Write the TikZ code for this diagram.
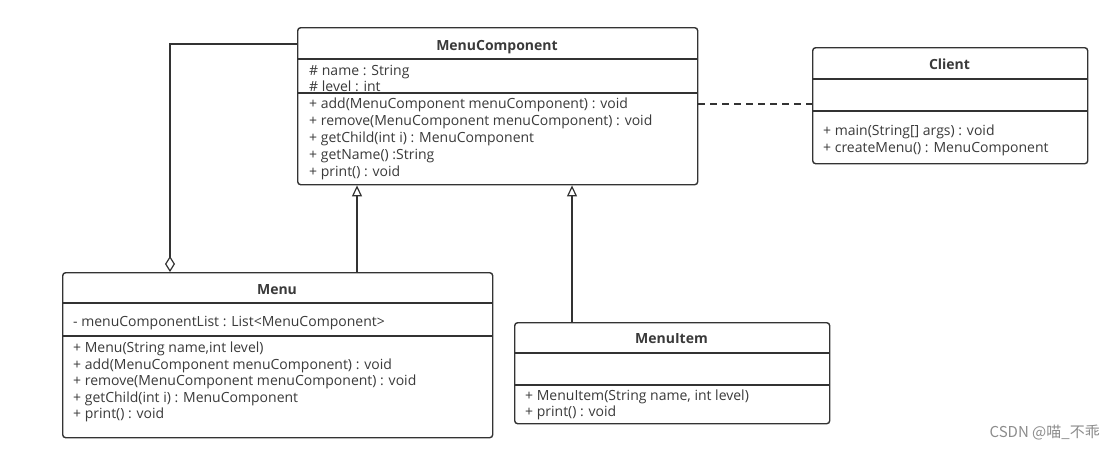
\documentclass[tikz,border=0pt]{standalone}
\usepackage{fontspec}
\setmainfont{Open Sans}
\newfontfamily\cjk{Noto Sans CJK SC}
\usetikzlibrary{arrows.meta}
\definecolor{ln}{HTML}{333333}
\definecolor{tx}{HTML}{3A3A3A}
\tikzset{
  classbox/.style={draw=ln, line width=1.4pt, rounded corners=3pt, anchor=north west, inner sep=0pt, fill=white},
  divider/.style={draw=ln, line width=1.4pt},
  txt/.style={anchor=mid west, inner sep=0pt, text=tx, font=\fontsize{14}{16}\selectfont, yshift=-2.5pt},
  ttl/.style={anchor=mid, inner sep=0pt, text=tx, font=\fontsize{14}{16}\selectfont\bfseries, yshift=-2.5pt},
  conn/.style={draw=ln, line width=1.4pt},
  inherit/.style={conn, -{Triangle[open, length=11pt, width=10pt, line width=1.2pt]}},
  aggr/.style={conn, {Diamond[open, length=16pt, width=10pt, line width=1.2pt]}-},
  dep/.style={conn, dash pattern=on 7pt off 5pt}
}
\begin{document}
\begin{tikzpicture}[x=1pt, y=-1pt]
\useasboundingbox (0,0) rectangle (1115,451);
% MenuComponent
\node[classbox, minimum width=400pt, minimum height=157pt] (mc) at (297,27) {};
\draw[divider] (297,59) -- (697,59);
\draw[divider] (297,93) -- (697,93);
\node[ttl] (mct) at (497,45) {MenuComponent};
\node[txt] (mc1) at (309,70) {\# name : String};
\node[txt] (mc2) at (309,86) {\# level : int};
\node[txt] (mc3) at (309,103) {+ add(MenuComponent menuComponent) : void};
\node[txt] (mc4) at (309,120) {+ remove(MenuComponent menuComponent) : void};
\node[txt] (mc5) at (309,137) {+ getChild(int i) : MenuComponent};
\node[txt] (mc6) at (309,154) {+ getName() :String};
\node[txt] (mc7) at (309,171) {+ print() : void};
% Client
\node[classbox, minimum width=275pt, minimum height=116pt] (cl) at (812,47) {};
\draw[divider] (812,79) -- (1087,79);
\draw[divider] (812,111) -- (1087,111);
\node[ttl] (clt) at (949.5,64) {Client};
\node[txt] (cl1) at (823,130) {+ main(String[] args) : void};
\node[txt] (cl2) at (823,147) {+ createMenu() : MenuComponent};
% Menu
\node[classbox, minimum width=430pt, minimum height=165pt] (menu) at (62,272) {};
\draw[divider] (62,303) -- (492,303);
\draw[divider] (62,336) -- (492,336);
\node[ttl] (menut) at (277,289) {Menu};
\node[txt] (m1) at (73,321) {- menuComponentList : List<MenuComponent>};
\node[txt] (m2) at (73,347) {+ Menu(String name,int level)};
\node[txt] (m3) at (73,364) {+ add(MenuComponent menuComponent) : void};
\node[txt] (m4) at (73,380) {+ remove(MenuComponent menuComponent) : void};
\node[txt] (m5) at (73,397) {+ getChild(int i) : MenuComponent};
\node[txt] (m6) at (73,413) {+ print() : void};
% MenuItem
\node[classbox, minimum width=315pt, minimum height=101pt] (mi) at (514,322) {};
\draw[divider] (514,353) -- (829,353);
\draw[divider] (514,385) -- (829,385);
\node[ttl] (mit) at (671.5,338) {MenuItem};
\node[txt] (mi1) at (525,395) {+ MenuItem(String name, int level)};
\node[txt] (mi2) at (525,411) {+ print() : void};
% connectors
\draw[aggr] ([xshift=108pt]menu.north west) |- ([yshift=-17pt]mc.north west);
\draw[inherit] ([xshift=295pt]menu.north west) -- ([xshift=295pt]menu.north west |- mc.south);
\draw[inherit] ([xshift=58pt]mi.north west) -- ([xshift=58pt]mi.north west |- mc.south);
\draw[dep] ([yshift=-77pt]mc.north east) -- ([yshift=-77pt]mc.north east -| cl.west);
% watermark
\node[anchor=mid east, inner sep=0pt, text=black!45, font=\cjk\fontsize{15}{17}\selectfont] (wm) at (1100,435) {CSDN @喵\_不乖};
\end{tikzpicture}
\end{document}
